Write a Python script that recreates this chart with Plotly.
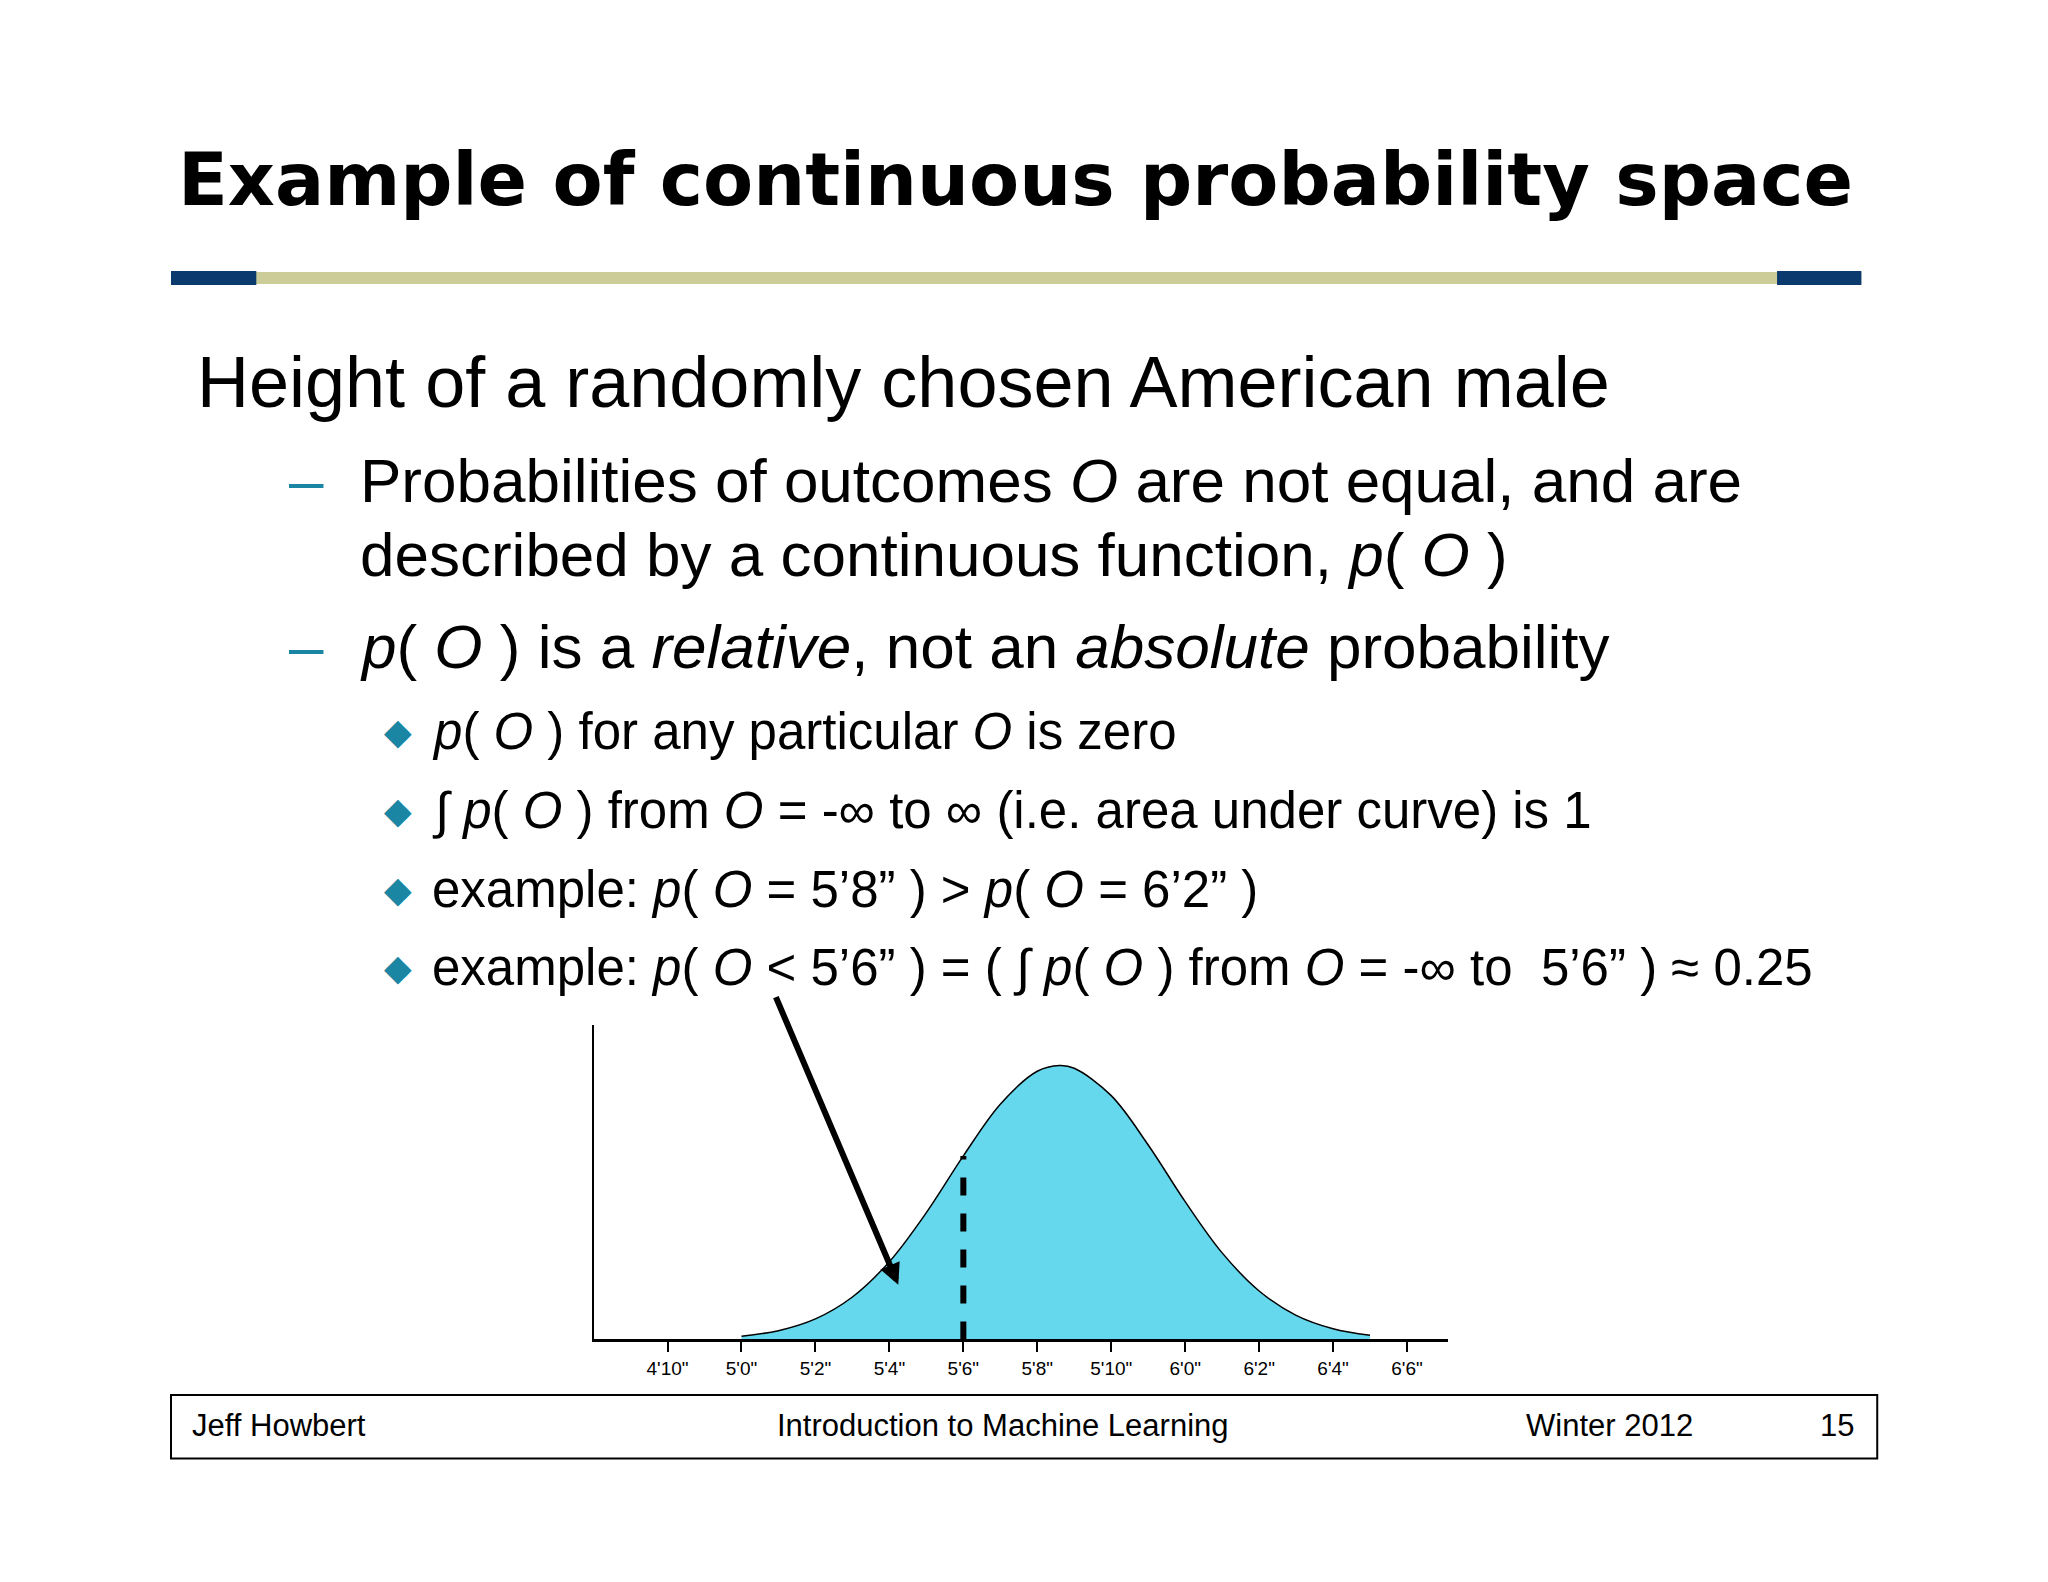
import plotly.graph_objects as go

W, H = 2048, 1582
heights_in = [60, 61, 62, 63, 64, 65, 66, 67, 68, 68.6, 69, 70, 71, 72, 73, 74, 75, 76, 77]
density = [0.012, 0.032, 0.075, 0.155, 0.284, 0.463, 0.67, 0.859, 0.979, 1.0, 0.99, 0.89, 0.71, 0.503, 0.316, 0.177, 0.088, 0.039, 0.015]
tick_vals = [58, 60, 62, 64, 66, 68, 70, 72, 74, 76, 78]
tick_text = ["4'10\"", "5'0\"", "5'2\"", "5'4\"", "5'6\"", "5'8\"", "5'10\"", "6'0\"", "6'2\"", "6'4\"", "6'6\""]
cut_x = 66
cut_y = 0.67

OFF = 8  # page margin compensation
S = 0.992

fig = go.Figure()
fig.add_trace(go.Scatter(x=heights_in, y=density, mode="lines", line=dict(color="black", width=1.5, shape="spline"),
                         fill="tozeroy", fillcolor="#66d8ee", hoverinfo="skip"))
fig.add_trace(go.Scatter(x=[cut_x, cut_x], y=[0, cut_y], mode="lines", line=dict(color="black", width=6, dash="dash"), hoverinfo="skip"))

def px(x): return (171 + (x - 171) * S - OFF) / W
def py(y): return 1 - (278 + (y - 279) * S - OFF) / H

fig.update_layout(
    width=W, height=H, margin=dict(l=0, r=0, t=0, b=0), showlegend=False,
    paper_bgcolor="white", plot_bgcolor="rgba(0,0,0,0)",
    xaxis=dict(domain=[px(597), px(1458)], range=[56, 79.1], tickvals=tick_vals, ticktext=tick_text,
               showgrid=False, zeroline=False, showline=True, linecolor="black", linewidth=3,
               ticks="outside", ticklen=10, tickwidth=1.5, tickcolor="black",
               tickfont=dict(family="Liberation Sans", size=19, color="black")),
    yaxis=dict(domain=[py(1349), py(1032)], range=[0, 1.148], showgrid=False, zeroline=False,
               showline=True, linecolor="black", linewidth=1.5, showticklabels=False, ticks=""),
)

shapes = [
    dict(type="rect", xref="paper", yref="paper", x0=px(171), x1=px(1875), y0=py(285), y1=py(273), fillcolor="#cccc99", line_width=0),
    dict(type="rect", xref="paper", yref="paper", x0=px(171), x1=px(257), y0=py(286), y1=py(272), fillcolor="#0b3a6e", line_width=0),
    dict(type="rect", xref="paper", yref="paper", x0=px(1790), x1=px(1875), y0=py(286), y1=py(272), fillcolor="#0b3a6e", line_width=0),
    dict(type="rect", xref="paper", yref="paper", x0=px(171), x1=px(1891), y0=py(1469), y1=py(1405), line=dict(color="black", width=2)),
]
fig.update_layout(shapes=shapes)

ann = []
def T(x, y, text, size, anchor="left", bold=False, color="black", family="Liberation Sans"):
    ann.append(dict(xref="paper", yref="paper", x=px(x), y=py(y), text=("<b>%s</b>" % text) if bold else text,
                    showarrow=False, xanchor=anchor, yanchor="middle",
                    font=dict(family=family, size=size, color=color)))

T(176, 180, "Example of continuous probability space", 73, bold=True, family="DejaVu Sans")
T(195, 384, "Height of a randomly chosen American male", 72)
teal = "#1a86a3"
T(288, 483, "–", 62, color=teal)
T(360, 483, "Probabilities of outcomes <i>O</i> are not equal, and are", 62)
T(360, 558, "described by a continuous function, <i>p</i>( <i>O</i> )", 62)
T(288, 650, "–", 62, color=teal)
T(360, 650, "<i>p</i>( <i>O</i> ) is a <i>relative</i>, not an <i>absolute</i> probability", 62)
for y, t in [(736, "<i>p</i>( <i>O</i> ) for any particular <i>O</i> is zero"),
             (816, "∫ <i>p</i>( <i>O</i> ) from <i>O</i> = -∞ to ∞ (i.e. area under curve) is 1"),
             (895, "example: <i>p</i>( <i>O</i> = 5’8” ) &gt; <i>p</i>( <i>O</i> = 6’2” )"),
             (974, "example: <i>p</i>( <i>O</i> &lt; 5’6” ) = ( ∫ <i>p</i>( <i>O</i> ) from <i>O</i> = -∞ to  5’6” ) ≈ 0.25")]:
    T(384, y, "◆", 36, color=teal)
    T(432, y, t, 51)
T(190, 1436, "Jeff Howbert", 31)
T(1010, 1436, "Introduction to Machine Learning", 31, anchor="center")
T(1535, 1436, "Winter 2012", 31)
T(1870, 1436, "15", 31, anchor="right")

ann.append(dict(x=64.24, y=0.2, xref="x", yref="y", ax=-123, ay=-289, showarrow=True,
                arrowhead=2, arrowsize=0.7, arrowwidth=6, arrowcolor="black", text=""))
fig.update_layout(annotations=ann)
fig.write_html("out.html")
